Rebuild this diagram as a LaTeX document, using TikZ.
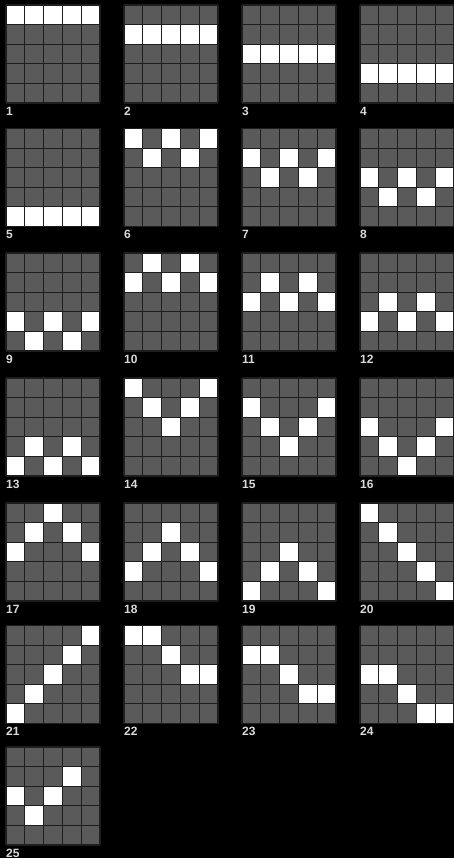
\documentclass[tikz,border=0pt]{standalone}
\usepackage{fontspec}
\setmainfont{Liberation Sans}
\definecolor{cellgray}{HTML}{5A5A5A}
\definecolor{gridcol}{HTML}{1E1E1E}
\definecolor{lblcol}{HTML}{DADADA}
\tikzset{
  cellfill/.style={fill=cellgray},
  oncell/.style={fill=white},
  gridline/.style={draw=gridcol,line width=1.1pt},
  lbl/.style={anchor=west,inner sep=0pt,text=lblcol,font=\fontsize{12}{12}\selectfont\bfseries}
}
\newcommand\panelgrid[4]{%
  \begin{scope}[shift={(#1,#2)}]
    \fill[cellfill] (0,0) rectangle (94,98);
    \foreach \r/\c in {#4} {\fill[oncell] (\c*18.8,\r*19.6) rectangle ++(18.8,19.6);}
    \foreach \i in {0,...,5} {
      \draw[gridline] (\i*18.8,0) -- (\i*18.8,98);
      \draw[gridline] (0,\i*19.6) -- (94,\i*19.6);
    }
    \node[lbl] (L#3) at (0,106) {#3};
  \end{scope}}
\begin{document}
\begin{tikzpicture}[x=1pt,y=-1pt]
\fill[black] (0,0) rectangle (454,858);
\useasboundingbox (0,0) rectangle (454,858);
% row 0
\panelgrid{6}{5}{1}{0/0,0/1,0/2,0/3,0/4}
\panelgrid{124}{5}{2}{1/0,1/1,1/2,1/3,1/4}
\panelgrid{242}{5}{3}{2/0,2/1,2/2,2/3,2/4}
\panelgrid{360}{5}{4}{3/0,3/1,3/2,3/3,3/4}
% row 1
\panelgrid{6}{128.5}{5}{4/0,4/1,4/2,4/3,4/4}
\panelgrid{124}{128.5}{6}{0/0,0/2,0/4,1/1,1/3}
\panelgrid{242}{128.5}{7}{1/0,1/2,1/4,2/1,2/3}
\panelgrid{360}{128.5}{8}{2/0,2/2,2/4,3/1,3/3}
% row 2
\panelgrid{6}{253}{9}{3/0,3/2,3/4,4/1,4/3}
\panelgrid{124}{253}{10}{0/1,0/3,1/0,1/2,1/4}
\panelgrid{242}{253}{11}{1/1,1/3,2/0,2/2,2/4}
\panelgrid{360}{253}{12}{2/1,2/3,3/0,3/2,3/4}
% row 3
\panelgrid{6}{378}{13}{3/1,3/3,4/0,4/2,4/4}
\panelgrid{124}{378}{14}{0/0,0/4,1/1,1/3,2/2}
\panelgrid{242}{378}{15}{1/0,1/4,2/1,2/3,3/2}
\panelgrid{360}{378}{16}{2/0,2/4,3/1,3/3,4/2}
% row 4
\panelgrid{6}{503}{17}{0/2,1/1,1/3,2/0,2/4}
\panelgrid{124}{503}{18}{1/2,2/1,2/3,3/0,3/4}
\panelgrid{242}{503}{19}{2/2,3/1,3/3,4/0,4/4}
\panelgrid{360}{503}{20}{0/0,1/1,2/2,3/3,4/4}
% row 5
\panelgrid{6}{625.5}{21}{4/0,3/1,2/2,1/3,0/4}
\panelgrid{124}{625.5}{22}{0/0,0/1,1/2,2/3,2/4}
\panelgrid{242}{625.5}{23}{1/0,1/1,2/2,3/3,3/4}
\panelgrid{360}{625.5}{24}{2/0,2/1,3/2,4/3,4/4}
% row 6
\panelgrid{6}{747}{25}{1/3,2/0,2/2,3/1}
\end{tikzpicture}
\end{document}
